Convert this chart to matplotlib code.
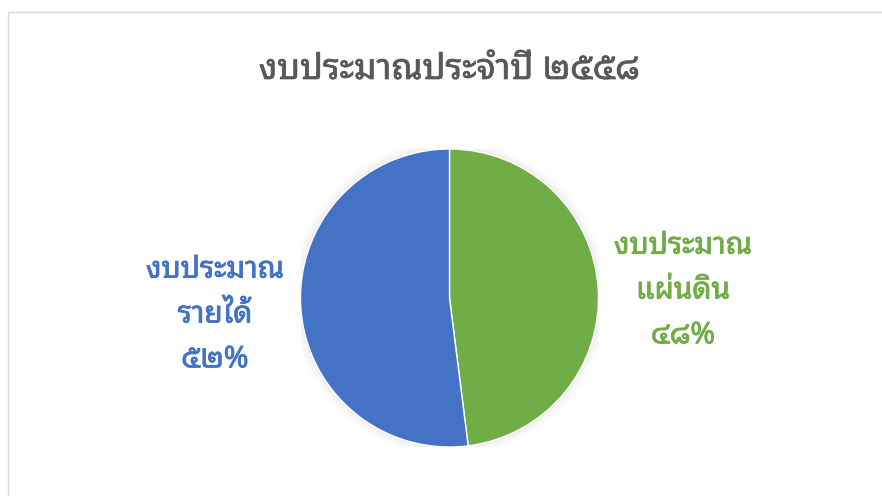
import matplotlib
matplotlib.use('Agg')
import matplotlib.pyplot as plt
import matplotlib.patheffects as pe
from matplotlib.patches import Rectangle, Circle

plt.rcParams['font.family'] = ['Noto Sans Thai Looped', 'Noto Sans Thai', 'Sarabun', 'DejaVu Sans']

title = 'งบประมาณประจำปี ๒๕๕๘'
labels = ['งบประมาณ\nแผ่นดิน\n๔๘%', 'งบประมาณ\nรายได้\n๕๒%']
values = [48, 52]
colors = ['#70AD47', '#4472C4']

fig = plt.figure(figsize=(8.82, 4.96), dpi=100)
fig.patches.append(Rectangle((8 / 882, -0.01), 1.0, 1 - 12 / 496 + 0.01,
                             transform=fig.transFigure, fill=False,
                             edgecolor='#D9D9D9', linewidth=1))

# pie centre ~ (449, 298), radius ~149 px
r = 149
ax = fig.add_axes([(449.5 - r) / 882, 1 - (298 + r) / 496, 2 * r / 882, 2 * r / 496])
# soft shadow round the pie
for k, a in [(1.06, 0.025), (1.04, 0.035), (1.02, 0.05)]:
    ax.add_patch(Circle((0, 0), k, color='#808080', alpha=a, lw=0))
ax.pie(values, colors=colors, startangle=90, counterclock=False,
       wedgeprops=dict(edgecolor='white', linewidth=1))
ax.set_xlim(-1, 1)
ax.set_ylim(-1, 1)
ax.set_aspect('equal')
ax.axis('off')

t = fig.text(449 / 882, 1 - 70 / 496, title, ha='center', va='center',
             fontsize=25.5, color='#595959')
t.set_path_effects([pe.withStroke(linewidth=0.5, foreground='#595959')])
for lab, c, x, y in [(labels[0], colors[0], 683, 291), (labels[1], colors[1], 215, 315)]:
    t = fig.text(x / 882, 1 - y / 496, lab, ha='center', va='center',
                 fontsize=21.5, color=c, linespacing=1.72)
    t.set_path_effects([pe.withStroke(linewidth=0.6, foreground=c)])

plt.savefig('out.png', dpi=100)
